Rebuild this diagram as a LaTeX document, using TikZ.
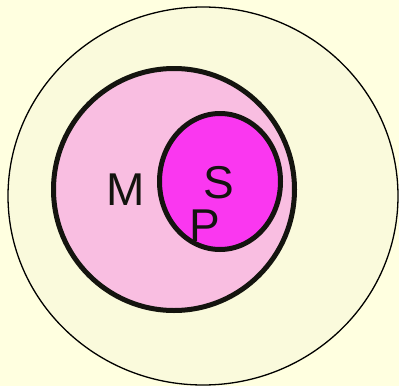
\documentclass[tikz,border=0pt]{standalone}
\usepackage{fontspec}
\setmainfont{Liberation Sans}
\definecolor{bgout}{RGB}{255,255,224}
\definecolor{bgin}{RGB}{250,250,220}
\definecolor{pinkM}{RGB}{249,190,225}
\definecolor{magS}{RGB}{250,55,240}
\definecolor{ink}{RGB}{20,20,15}
\begin{document}
\begin{tikzpicture}[x=1pt,y=-1pt,
  lbl/.style={text=ink,font=\fontsize{46}{46}\selectfont,inner sep=0pt,anchor=center},
  thick ring/.style={draw=ink,line width=5pt}]
\fill[bgout] (0,0) rectangle (399,386);
\useasboundingbox (0,0) rectangle (399,386);
\filldraw[fill=bgin,draw=black,line width=1.3pt] (203,196) ellipse [x radius=195,y radius=189];
\filldraw[fill=pinkM,thick ring] (174,189.5) ellipse [x radius=120.5,y radius=121];
\filldraw[fill=magS,thick ring] (220,181.5) ellipse [x radius=60.5,y radius=68];
\node[lbl] (M) at (126,190) {M};
\node[lbl] (S) at (219,183) {S};
\node[lbl] (P) at (205,225.5) {P};
\end{tikzpicture}
\end{document}
